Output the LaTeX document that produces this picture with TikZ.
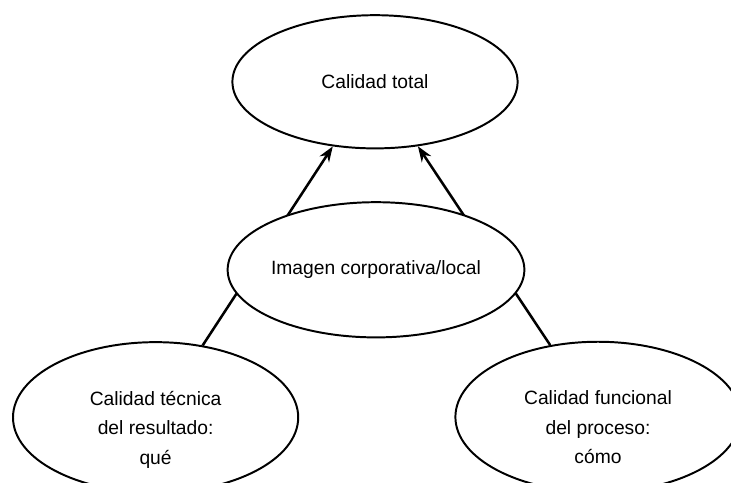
\documentclass[tikz,border=0pt]{standalone}
\usepackage{fontspec}
\setmainfont{Liberation Sans}
\usetikzlibrary{shapes.geometric,arrows.meta}

\begin{document}
\begin{tikzpicture}
        [
        state/.style={ellipse, draw, line width=1.4pt, inner sep=0pt, align=center,
                      font=\fontsize{13.7}{21}\selectfont, minimum width=7.13cm, minimum height=3.25cm},
        lower/.style={text height=2.5cm, text depth=0.16cm},
        arr/.style={-{Stealth[length=11pt,width=8pt]}, line width=1.8pt}
        ]

        \useasboundingbox (0,0) rectangle (18.275,12.075);

        \node[state, minimum height=3.33cm] (T) at (9.375,10.03) {Calidad total};
        \node[state, lower] (Q) at (3.89,1.64) {Calidad técnica\\del resultado:\\qué};
        \node[state, lower] (F) at (14.95,1.65) {Calidad funcional\\del proceso:\\cómo};

        \draw[arr] (Q) -- (T);
        \draw[arr] (F) -- (T);

        \node[state, fill=white, minimum width=7.18cm, minimum height=3.38cm] (I) at (9.4,5.33) {Imagen corporativa/local};

    \end{tikzpicture}
\end{document}
